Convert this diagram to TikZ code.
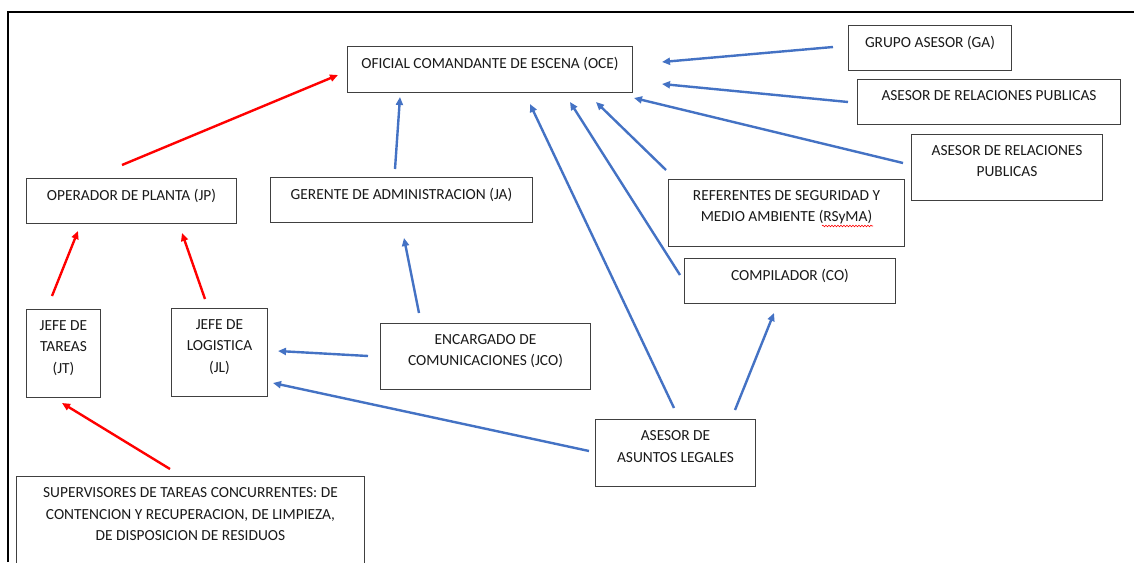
\documentclass[tikz,border=0pt]{standalone}
\usepackage{fontspec}
\setmainfont{Carlito}
\usetikzlibrary{arrows.meta,decorations.pathmorphing}
\definecolor{ablue}{HTML}{4472C4}
\definecolor{ared}{HTML}{FF0000}
\definecolor{bord}{HTML}{404040}
\definecolor{txtc}{HTML}{1A1A1A}
\newcommand\bxt[3]{\parbox[c][#2][t]{#1}{\centering\color{txtc}\fontsize{15.4}{21.5}\selectfont\vspace*{11pt}#3\par}}
\tikzset{
  box/.style={draw=bord, line width=1pt, inner sep=0pt, anchor=north west},
  barrow/.style={draw=ablue, line width=2.4pt, -{Triangle[length=8pt,width=7pt]}},
  rarrow/.style={draw=ared, line width=2.4pt, -{Triangle[length=8pt,width=7pt]}},
}
\begin{document}
\begin{tikzpicture}[x=1pt,y=-1pt]
\useasboundingbox (0,0) rectangle (1134,562);
\fill[white] (0,0) rectangle (1134,562);
% frame
\coordinate (f1) at (8,562);
\coordinate (f2) at (8,12);
\coordinate (f3) at (1140,12);
\draw[line width=2.6pt] (f1) -- (f2) -- (f3);
% boxes
\node[box] (oce) at (347,46) {\bxt{285pt}{46pt}{OFICIAL COMANDANTE DE ESCENA (OCE)}};
\node[box] (ga) at (848,25) {\bxt{163pt}{45pt}{GRUPO ASESOR (GA)}};
\node[box] (arp1) at (857,79) {\bxt{263pt}{45pt}{ASESOR DE RELACIONES PUBLICAS}};
\node[box] (arp2) at (911,134) {\bxt{191pt}{66pt}{ASESOR DE RELACIONES\\PUBLICAS}};
\node[box] (op) at (26,178) {\bxt{210pt}{45pt}{OPERADOR DE PLANTA (JP)}};
\node[box] (ja) at (270,177) {\bxt{262pt}{45pt}{GERENTE DE ADMINISTRACION (JA)}};
\node[box] (rs) at (668,179) {\bxt{236pt}{67pt}{REFERENTES DE SEGURIDAD Y\\MEDIO AMBIENTE (RSyMA)}};
\node[box] (co) at (684,258) {\bxt{211pt}{45pt}{COMPILADOR (CO)}};
\node[box] (jt) at (26,309) {\bxt{74pt}{88pt}{JEFE DE\\TAREAS\\(JT)}};
\node[box] (jl) at (171,308) {\bxt{96pt}{88pt}{JEFE DE\\LOGISTICA\\(JL)}};
\node[box] (jco) at (380,323) {\bxt{210pt}{66pt}{ENCARGADO DE\\COMUNICACIONES (JCO)}};
\node[box] (aal) at (595,419) {\bxt{160pt}{67pt}{ASESOR DE\\ASUNTOS LEGALES}};
\node[box] (sup) at (16,476) {\bxt{348pt}{100pt}{SUPERVISORES DE TAREAS CONCURRENTES: DE\\CONTENCION Y RECUPERACION, DE LIMPIEZA,\\DE DISPOSICION DE RESIDUOS}};
% spell-check underline
\coordinate (w1) at (822,226);
\coordinate (w2) at (873,226);
\draw[ared, line width=0.6pt, decorate, decoration={snake, amplitude=0.8pt, segment length=3pt}] (w1) -- (w2);
% arrow end points
\coordinate (opS) at (122,165);   \coordinate (oceW) at (338,75);
\coordinate (jtS) at (52,296);    \coordinate (opT1) at (78,231);
\coordinate (jlS) at (205,299);   \coordinate (opT2) at (182,233);
\coordinate (supS) at (170,469);  \coordinate (jtT) at (62,403);
\coordinate (jaS) at (395,169);   \coordinate (oceT1) at (400,97);
\coordinate (gaS) at (833,47);    \coordinate (oceT2) at (662,62);
\coordinate (arp1S) at (848,102); \coordinate (oceT3) at (662,84);
\coordinate (arp2S) at (903,163); \coordinate (oceT4) at (634,98);
\coordinate (rsS) at (666,170);   \coordinate (oceT5) at (596,102);
\coordinate (coS) at (680,275);   \coordinate (oceT6) at (570,102);
\coordinate (aalS1) at (674,408); \coordinate (oceT7) at (530,104);
\coordinate (aalS2) at (735,410); \coordinate (coT) at (774,313);
\coordinate (jcoS1) at (419,313); \coordinate (jaT) at (404,238);
\coordinate (jcoS2) at (368,356); \coordinate (jlT1) at (278,351);
\coordinate (aalS3) at (589,451); \coordinate (jlT2) at (273,383);
% red arrows
\draw[rarrow] (opS) -- (oceW);
\draw[rarrow] (jtS) -- (opT1);
\draw[rarrow] (jlS) -- (opT2);
\draw[rarrow] (supS) -- (jtT);
% blue arrows
\draw[barrow] (jaS) -- (oceT1);
\draw[barrow] (gaS) -- (oceT2);
\draw[barrow] (arp1S) -- (oceT3);
\draw[barrow] (arp2S) -- (oceT4);
\draw[barrow] (rsS) -- (oceT5);
\draw[barrow] (coS) -- (oceT6);
\draw[barrow] (aalS1) -- (oceT7);
\draw[barrow] (aalS2) -- (coT);
\draw[barrow] (jcoS1) -- (jaT);
\draw[barrow] (jcoS2) -- (jlT1);
\draw[barrow] (aalS3) -- (jlT2);
\end{tikzpicture}
\end{document}
